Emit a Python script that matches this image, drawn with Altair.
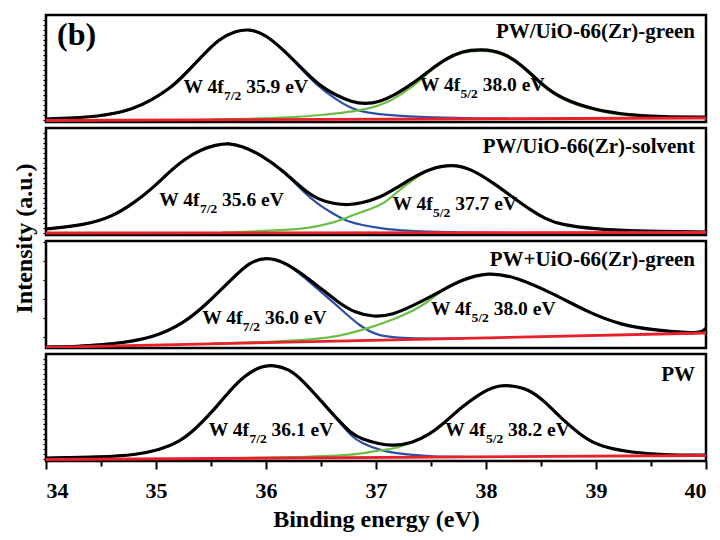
import altair as alt
import pandas as pd

FONT = "Liberation Serif"

panel_names = ["PW/UiO-66(Zr)-green", "PW/UiO-66(Zr)-solvent", "PW+UiO-66(Zr)-green", "PW"]
panel_name_I = [90, 88, 88, 86]

# ---------------- Panel 1: PW/UiO-66(Zr)-green ----------------
p1_env_E = [34.0, 34.5, 34.8, 34.96, 35.12, 35.24, 35.42, 35.57, 35.72, 35.85, 35.99, 36.17, 36.33, 36.48, 36.63, 36.78, 36.9, 37.03, 37.17, 37.33, 37.48, 37.63, 37.78, 37.96, 38.15, 38.33, 38.51, 38.69, 38.99, 39.3, 39.6, 40.0]
p1_env_I = [3, 5, 13, 22, 33, 45, 66, 83, 91, 93, 88, 71, 53, 37, 27, 20, 18, 20, 27, 38, 51, 63, 71, 73, 70, 57, 37, 23, 12, 7, 5, 5]
p1_blue_E = [34.0, 34.5, 34.8, 34.96, 35.12, 35.24, 35.42, 35.57, 35.72, 35.85, 35.99, 36.17, 36.33, 36.48, 36.63, 36.78, 36.93, 37.1, 37.3, 37.5, 37.8, 38.2]
p1_blue_I = [3, 5, 13, 22, 33, 45, 66, 83, 91, 93, 88, 71, 52, 35, 23, 13, 9, 7, 5.5, 4.5, 3.8, 3.3]
p1_green_E = [35.5, 36.0, 36.3, 36.5, 36.7, 36.93, 37.1, 37.25, 37.4, 37.48, 37.63, 37.78, 37.96, 38.15, 38.33, 38.51, 38.69, 38.99, 39.3, 39.6, 40.0]
p1_green_I = [2.5, 3.5, 5, 7, 9, 13, 19, 29, 41, 50, 62, 70, 72, 69, 56, 36, 22, 11, 6, 4.5, 4.5]
p1_red_E = [34.0, 40.0]
p1_red_I = [1.5, 4.0]

# ---------------- Panel 2: PW/UiO-66(Zr)-solvent ----------------
p2_env_E = [34.0, 34.35, 34.6, 34.81, 34.96, 35.12, 35.26, 35.42, 35.54, 35.66, 35.78, 35.96, 36.17, 36.33, 36.48, 36.63, 36.75, 36.87, 37.03, 37.17, 37.33, 37.48, 37.69, 37.87, 38.08, 38.24, 38.39, 38.54, 38.69, 38.99, 39.3, 40.0]
p2_env_I = [6, 10, 18, 33, 46, 63, 76, 86, 90, 92, 89, 80, 63, 46, 35, 31, 30, 32, 37, 46, 57, 66, 71, 66, 51, 38, 26, 16, 10, 6, 4, 3]
p2_blue_E = [34.0, 34.35, 34.6, 34.81, 34.96, 35.12, 35.26, 35.42, 35.54, 35.66, 35.78, 35.96, 36.17, 36.33, 36.48, 36.63, 36.75, 36.87, 37.03, 37.17, 37.4, 37.7, 38.2]
p2_blue_I = [6, 10, 18, 33, 46, 63, 76, 86, 90, 92, 89, 80, 63, 44, 30, 20, 13, 10, 7, 5, 3.5, 2.5, 2.2]
p2_green_E = [35.6, 36.0, 36.33, 36.48, 36.63, 36.75, 36.87, 37.03, 37.12, 37.17, 37.33, 37.48, 37.69, 37.87, 38.08, 38.24, 38.39, 38.54, 38.69, 38.99, 39.3, 40.0]
p2_green_I = [2.5, 4, 6, 9, 13, 18, 23, 29, 36, 41, 55, 66, 71, 66, 51, 38, 26, 16, 10, 6, 4, 3]
p2_red_E = [34.0, 40.0]
p2_red_I = [2.0, 2.5]

# ---------------- Panel 3: PW+UiO-66(Zr)-green ----------------
p3_env_E = [34.0, 34.3, 34.5, 34.68, 34.97, 35.26, 35.47, 35.68, 35.85, 36.0, 36.18, 36.44, 36.65, 36.81, 36.98, 37.15, 37.35, 37.56, 37.77, 38.02, 38.27, 38.6, 38.94, 39.23, 39.52, 39.85, 39.96, 40.0]
p3_env_I = [1, 1.5, 3, 5, 10, 25, 45, 68, 86, 91, 86, 65, 46, 35, 31, 33, 43, 55, 68, 76, 71, 55, 35, 23, 18, 15, 15.5, 20]
p3_blue_E = [34.0, 34.3, 34.5, 34.68, 34.97, 35.26, 35.47, 35.68, 35.85, 36.0, 36.18, 36.44, 36.65, 36.86, 37.02, 37.23, 37.5, 37.8]
p3_blue_I = [1, 1.8, 3.5, 5.5, 10, 25, 45, 68, 86, 91, 86, 62, 42, 21, 12, 10, 9.3, 9.8]
p3_green_E = [35.5, 36.0, 36.3, 36.65, 36.94, 37.23, 37.48, 37.56, 37.77, 38.02, 38.27, 38.6, 38.94, 39.23, 39.52, 39.85, 39.96]
p3_green_I = [4.5, 6, 7.5, 11, 20, 31, 46, 55, 68, 76, 71, 55, 35, 23, 18, 15, 15.5]
p3_red_E = [34.0, 40.0]
p3_red_I = [0.5, 15.0]

# ---------------- Panel 4: PW ----------------
p4_env_E = [34.0, 34.51, 34.81, 35.03, 35.21, 35.35, 35.51, 35.66, 35.81, 35.96, 36.07, 36.21, 36.33, 36.51, 36.63, 36.78, 36.87, 37.03, 37.15, 37.33, 37.48, 37.63, 37.78, 37.94, 38.08, 38.21, 38.39, 38.54, 38.69, 38.85, 38.99, 39.15, 39.3, 39.6, 40.0]
p4_env_I = [3, 4, 6, 11, 19, 31, 49, 69, 86, 95, 96, 92, 81, 59, 44, 27, 22, 17, 15, 18, 26, 39, 54, 67, 75, 76, 72, 59, 42, 27, 17, 12, 9, 6, 6]
p4_blue_E = [34.0, 34.51, 34.81, 35.03, 35.21, 35.35, 35.51, 35.66, 35.81, 35.96, 36.07, 36.21, 36.33, 36.51, 36.63, 36.78, 36.87, 37.03, 37.17, 37.33, 37.5, 37.8]
p4_blue_I = [3, 4, 6, 11, 19, 31, 49, 69, 86, 95, 96, 92, 81, 59, 44, 24, 18, 11, 8, 6, 4.5, 4.2]
p4_green_E = [35.8, 36.3, 36.6, 36.87, 37.03, 37.17, 37.33, 37.48, 37.63, 37.78, 37.94, 38.08, 38.21, 38.39, 38.54, 38.69, 38.85, 38.99, 39.15, 39.3, 39.6, 40.0]
p4_green_I = [3, 4, 5, 7, 11, 12, 19, 26, 39, 54, 67, 75, 76, 72, 59, 42, 27, 17, 12, 9, 6, 6]
p4_red_E = [34.0, 40.0]
p4_red_I = [1.5, 5.5]

# ---------------- Peak labels ----------------
label_panel = [1, 1, 2, 2, 3, 3, 4, 4]
label_E = [35.25, 37.4, 35.03, 37.15, 35.42, 37.5, 35.48, 37.63]
label_I = [35, 37, 35, 31, 30, 39, 31, 31]
label_main = ["W 4f"] * 8
label_sub = ["7/2", "5/2", "7/2", "5/2", "7/2", "5/2", "7/2", "5/2"]
label_value = ["35.9 eV", "38.0 eV", "35.6 eV", "37.7 eV", "36.0 eV", "38.0 eV", "36.1 eV", "38.2 eV"]

x_tick_values = [34, 34.5, 35, 35.5, 36, 36.5, 37, 37.5, 38, 38.5, 39, 39.5, 40]

curves = {
    1: {"env": (p1_env_E, p1_env_I), "blue": (p1_blue_E, p1_blue_I), "green": (p1_green_E, p1_green_I), "red": (p1_red_E, p1_red_I)},
    2: {"env": (p2_env_E, p2_env_I), "blue": (p2_blue_E, p2_blue_I), "green": (p2_green_E, p2_green_I), "red": (p2_red_E, p2_red_I)},
    3: {"env": (p3_env_E, p3_env_I), "blue": (p3_blue_E, p3_blue_I), "green": (p3_green_E, p3_green_I), "red": (p3_red_E, p3_red_I)},
    4: {"env": (p4_env_E, p4_env_I), "blue": (p4_blue_E, p4_blue_I), "green": (p4_green_E, p4_green_I), "red": (p4_red_E, p4_red_I)},
}

series_style = [
    ("blue", "#2c4ea6", 2.2),
    ("green", "#6cbf45", 2.2),
    ("env", "#000000", 3.2),
    ("red", "#e8202a", 2.8),
]

labels_df = pd.DataFrame({
    "panel": label_panel, "E": label_E, "I": label_I,
    "main": label_main, "sub": label_sub, "value": label_value,
})

PANEL_W = 660
PANEL_H = 107
MAIN_FS = 19.5
SUB_FS = 13.5


def make_panel(k):
    bottom = (k == 4)
    if bottom:
        x_axis = alt.Axis(
            values=x_tick_values,
            labelExpr="datum.value % 1 === 0 ? format(datum.value, 'd') : ''",
            tickSize={"condition": {"test": "datum.value % 1 === 0", "value": 8}, "value": 5},
            tickWidth=2, tickColor="black",
            labelPadding=11, labelFontSize=22,
            title="Binding energy (eV)", titleFontSize=24, titlePadding=6,
            domain=False, grid=False,
        )
    else:
        x_axis = alt.Axis(labels=False, ticks=False, domain=False, grid=False, title=None)

    if k == 3:
        y_axis = alt.Axis(
            values=[11, 30, 49, 68, 87, 106], labels=False, tickSize=3, tickWidth=1.2,
            domain=False, grid=False, title="Intensity (a.u.)", titleFontSize=24,
            titlePadding=6, titleY=-3,
        )
    else:
        y_axis = alt.Axis(
            values=list(range(2, 107, 5)), labels=False, tickSize=3, tickWidth=1.2,
            domain=False, grid=False, title=None,
        )

    X = alt.X("E:Q", scale=alt.Scale(domain=[34, 40], nice=False, zero=False), axis=x_axis)
    Y = alt.Y("I:Q", scale=alt.Scale(domain=[0, PANEL_H], nice=False, zero=False), axis=y_axis)

    layers = []
    for name, color, width in series_style:
        e_vals, i_vals = curves[k][name]
        df = pd.DataFrame({"E": e_vals, "I": i_vals})
        layers.append(
            alt.Chart(df).mark_line(color=color, strokeWidth=width, interpolate="basis", clip=True)
            .encode(x=X, y=Y)
        )

    lab = labels_df[labels_df.panel == k]
    text_common = dict(font=FONT, fontWeight="bold", color="black", align="left", baseline="middle")
    main_w = 2.083 * MAIN_FS
    sub_w = 1.278 * SUB_FS
    layers.append(alt.Chart(lab).mark_text(fontSize=MAIN_FS, **text_common).encode(x=X, y=Y, text="main:N"))
    layers.append(alt.Chart(lab).mark_text(fontSize=SUB_FS, dx=main_w, dy=9, **text_common).encode(x=X, y=Y, text="sub:N"))
    layers.append(alt.Chart(lab).mark_text(fontSize=MAIN_FS, dx=main_w + sub_w + 0.25 * MAIN_FS, **text_common).encode(x=X, y=Y, text="value:N"))

    name_df = pd.DataFrame({"E": [39.9], "I": [panel_name_I[k - 1]], "name": [panel_names[k - 1]]})
    layers.append(
        alt.Chart(name_df).mark_text(font=FONT, fontWeight="bold", fontSize=21, color="black",
                                     align="right", baseline="middle")
        .encode(x=X, y=Y, text="name:N")
    )
    if k == 1:
        b_df = pd.DataFrame({"E": [34.1], "I": [87], "t": ["(b)"]})
        layers.append(
            alt.Chart(b_df).mark_text(font=FONT, fontWeight="bold", fontSize=32, color="black",
                                      align="left", baseline="middle")
            .encode(x=X, y=Y, text="t:N")
        )
    return alt.layer(*layers).properties(width=PANEL_W, height=PANEL_H)


chart = alt.vconcat(*[make_panel(k) for k in [1, 2, 3, 4]], spacing=6, bounds="flush").properties(
    padding={"left": 3, "top": 5, "right": 0, "bottom": 0},
    background="white",
).configure_view(
    stroke="black", strokeWidth=2.5
).configure_axis(
    labelFont=FONT, titleFont=FONT, labelFontWeight="bold", titleFontWeight="bold",
    labelColor="black", titleColor="black", tickColor="black",
)

chart.save("out.html", embed_options={"renderer": "svg", "actions": False})
